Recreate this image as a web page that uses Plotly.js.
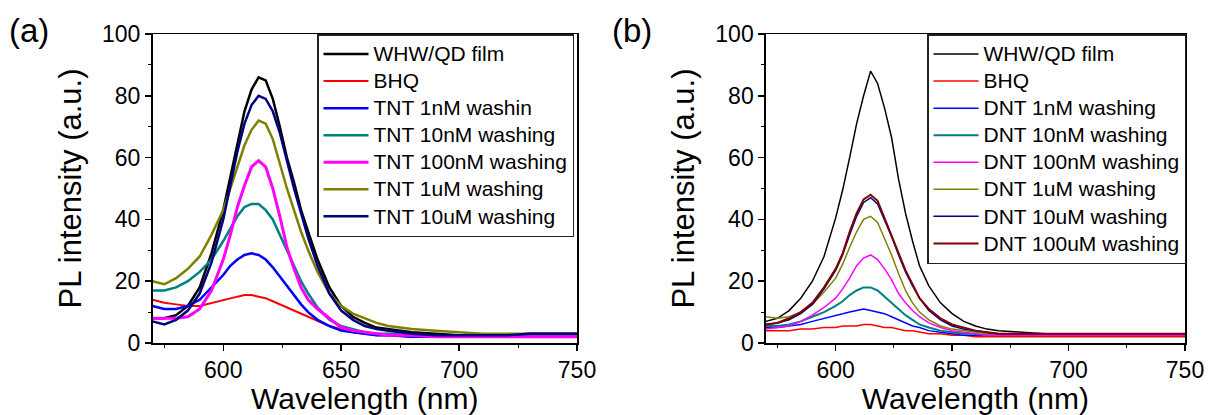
<!DOCTYPE html>
<html>
<head>
<meta charset="utf-8">
<script src="https://cdn.plot.ly/plotly-3.0.1.min.js"></script>
<style>html,body{margin:0;padding:0;background:#fff;}#chart{width:1211px;height:415px;}</style>
</head>
<body>
<div id="chart"></div>
<script>
// Wavelength grid (nm), shared by all spectra
const wavelength = [570,575,580,585,590,595,600,603,606,609,612,615,618,621,624,627,630,633,636,640,645,650,655,660,665,670,680,690,700,710,720,730,740,750];

// Panel (a): TNT series (PL intensity, a.u.)
const whwA    = [8,8,9,12,18,29,43,54,65,75,82,86,85,79,70,60,52,43,36,27,18,12,8.5,6.5,5,4.5,3.5,3,2.5,2.5,2.5,3,3,3];
const bhqA    = [14,13,12.5,12,12,13,14,14.5,15,15.5,15.5,15,14.5,13.5,12.5,11.5,10.5,9.5,8.5,7,5.5,4.5,3.5,3,2.5,2.5,2,2,2,2,2,2,2,2];
const tnt1nM  = [12,11,11,12,14,18,22,25,27,28.5,29,28.5,27,24.5,21.5,18.5,15.5,12.5,10,7.5,5.5,4,3.5,3,2.5,2.5,2,2,2,2,2,2,2,2];
const tnt10nM = [17,17,18,20,23,27,33,37,41,44,45,45,43,40,35,30,25,20,16,11.5,7.5,5.5,4.5,3.5,3,3,2.5,2.5,2.5,2.5,2.5,2.5,2.5,2.5];
const tnt100nM= [8,8,8,8.5,11,17,27,35,44,51,57,59,57,50,41,31,24,18,14,11,8,5,4,3.5,3,2.5,2.5,2,2,2,2,2,2,2];
const tnt1uM  = [20,19,21,24,28,35,43,50,57,64,69,72,71,66,58,50,43,36,30,23,16,12,9.5,8,6.5,5.5,4.5,4,3.5,3,3,3,3,3];
const tnt10uM = [7,6,7.5,10.5,16,26,40,51,62,71,77,80,79,75,68,59,50,42,34,25,16,10.5,7.5,5.5,4.5,4,3,2.5,2.5,2.5,2.5,3,3,3];

// Panel (b): DNT series
const whwB     = [7,8,10.5,14.5,20,28,40.5,49.5,60,71,80,88,84,76,66.5,53,42,33,25,18.5,13,9.5,7,5.5,4.5,4,3.5,3,3,3,3,3,3,3];
const bhqB     = [4,4,4,4.5,4.5,5,5,5.5,5.5,5.5,6,6,5.5,5,5,4.5,4,4,3.5,3,3,2.5,2.5,2,2,2,2,2,2,2,2,2,2,2];
const dnt1nM   = [5,5,5.5,6,7,8,9,9.5,10,10.5,11,10.5,10,9.5,8.5,7.5,6.5,5.5,5,4,3.5,3,2.5,2.5,2.5,2.5,2.5,2.5,2.5,2.5,2.5,2.5,2.5,2.5];
const dnt10nM  = [5.5,5.5,6,7,8.5,10,12,13.5,15.5,17,18,18,17,15,13,11,9,7.5,6,5,4,3.5,3,3,2.5,2.5,2.5,2.5,2.5,2.5,2.5,2.5,2.5,2.5];
const dnt100nM = [4.5,5,5.5,7,9,11.5,14.5,17.5,21,25,27.5,28.5,27,24,20.5,16,13,10.5,8.5,6.5,5,4,3.5,3,2.5,2.5,2.5,2.5,2.5,2.5,2.5,2.5,2.5,2.5];
const dnt1uM   = [8.5,8,8.5,10,12.5,16.5,21,25.5,31,36,40,41,39,34,28.5,22.5,17,13,10,7.5,5.5,4.5,4,3.5,3,3,3,3,3,3,3,3,3,3];
const dnt10uM  = [6,6.5,7.5,9.5,12.5,17.5,23.5,28.5,35,41,45.5,47,45,40,34.5,28.5,23,18.5,14.5,10.5,7.5,5.5,4.5,4,3.5,3,3,3,3,3,3,3,3,3];
const dnt100uM = [6,6.5,8,10,13,18,24,29,36,42,46.5,48,46,40.5,35,29,23.5,19,14.5,11,8,6,5,4,3.5,3,3,3,3,3,3,3,3,3];

const namesA = ['WHW/QD film','BHQ','TNT 1nM washin','TNT 10nM washing','TNT 100nM washing','TNT 1uM washing','TNT 10uM washing'];
const namesB = ['WHW/QD film','BHQ','DNT 1nM washing','DNT 10nM washing','DNT 100nM washing','DNT 1uM washing','DNT 10uM washing','DNT 100uM washing'];
const seriesA = [whwA,bhqA,tnt1nM,tnt10nM,tnt100nM,tnt1uM,tnt10uM];
const seriesB = [whwB,bhqB,dnt1nM,dnt10nM,dnt100nM,dnt1uM,dnt10uM,dnt100uM];
const colorsA = ['#000000','#ff0000','#0000ff','#008080','#ff00ff','#808000','#000080'];
const colorsB = ['#000000','#ff0000','#0000ff','#008080','#ff00ff','#808000','#000080','#800000'];
const widthsA = [2.5,2,2.5,2.5,3,2.5,2.5];
const widthsB = [1.5,1.5,1.5,2,1.5,1.5,1.5,2];

const FONT = 'Arial, "Liberation Sans", sans-serif';
const label = s => '<span style="font-size:21px">' + s + '</span>';

const traces = [];
seriesA.forEach((y,i) => traces.push({
  x: wavelength, y: y, type: 'scatter', mode: 'lines', name: label(namesA[i]),
  line: {color: colorsA[i], width: widthsA[i]}, xaxis: 'x', yaxis: 'y', legend: 'legend'
}));
seriesB.forEach((y,i) => traces.push({
  x: wavelength, y: y, type: 'scatter', mode: 'lines', name: label(namesB[i]),
  line: {color: colorsB[i], width: widthsB[i]}, xaxis: 'x2', yaxis: 'y2', legend: 'legend2'
}));

const W = 1211, H = 415;
const yDom = [(H-343)/H, (H-34)/H];
function xAx(dom, anchor) {
  return {
    domain: dom, anchor: anchor, range: [570,750], dtick: 50, tick0: 0,
    showline: true, linecolor: '#000', linewidth: 1.5, mirror: true,
    ticks: 'outside', ticklen: 6, tickwidth: 1.5, tickcolor: '#000',
    minor: {dtick: 25, tick0: 0, ticks: 'outside', ticklen: 3, tickwidth: 1, tickcolor: '#000'},
    showgrid: false, zeroline: false,
    tickfont: {family: FONT, size: 23, color: '#000'},
    title: {text: 'Wavelength (nm)', font: {family: FONT, size: 30, color: '#000'}, standoff: 10}
  };
}
function yAx(anchor) {
  return {
    domain: yDom, anchor: anchor, range: [0,100], dtick: 20, tick0: 0,
    showline: true, linecolor: '#000', linewidth: 1.5, mirror: true,
    ticks: 'outside', ticklen: 6, tickwidth: 1.5, tickcolor: '#000',
    minor: {dtick: 10, tick0: 0, ticks: 'outside', ticklen: 3, tickwidth: 1, tickcolor: '#000'},
    showgrid: false, zeroline: false,
    tickfont: {family: FONT, size: 23, color: '#000'},
    title: {text: 'PL intensity (a.u.)', font: {family: FONT, size: 31, color: '#000'}, standoff: 11}
  };
}
function leg(x) {
  return {
    x: x, y: yDom[1], xanchor: 'left', yanchor: 'top', xref: 'paper', yref: 'paper',
    bgcolor: '#fff', bordercolor: '#222', borderwidth: 1.5,
    font: {family: FONT, size: 18.5, color: '#000'}, itemwidth: 45, tracegroupgap: 0
  };
}

const layout = {
  width: W, height: H, margin: {l: 0, r: 0, t: 0, b: 0},
  paper_bgcolor: '#fff', plot_bgcolor: '#fff', showlegend: true,
  font: {family: FONT, color: '#000'},
  xaxis: xAx([152.5/W, 577/W], 'y'),
  yaxis: yAx('x'),
  xaxis2: xAx([765.8/W, 1185/W], 'y2'),
  yaxis2: yAx('x2'),
  legend: leg(317/W),
  legend2: leg(927/W),
  annotations: [
    {text: '(a)', x: 29/W, y: (H-30)/H, xref: 'paper', yref: 'paper', showarrow: false, xanchor: 'center', yanchor: 'middle', font: {family: FONT, size: 33, color: '#000'}},
    {text: '(b)', x: 632/W, y: (H-30)/H, xref: 'paper', yref: 'paper', showarrow: false, xanchor: 'center', yanchor: 'middle', font: {family: FONT, size: 33, color: '#000'}}
  ]
};

Plotly.newPlot('chart', traces, layout, {staticPlot: true, displayModeBar: false});
</script>
</body>
</html>
